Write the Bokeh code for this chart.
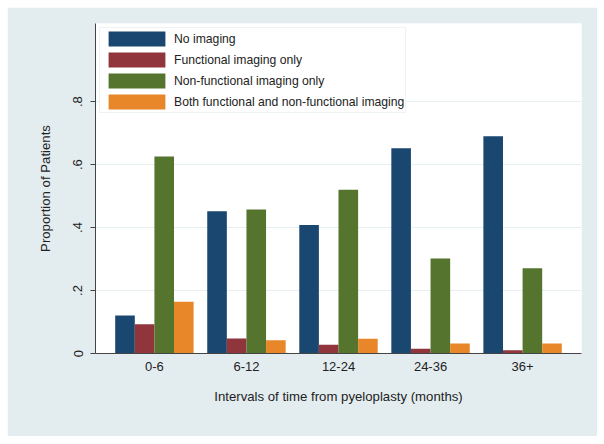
from bokeh.plotting import figure
from bokeh.models import FactorRange, Range1d, FixedTicker, Legend, LegendItem, ColumnDataSource
from bokeh.transform import dodge
from bokeh.embed import file_html
from bokeh.resources import INLINE

intervals = ["0-6", "6-12", "12-24", "24-36", "36+"]
no_imaging = [0.121, 0.452, 0.408, 0.652, 0.690]
functional_only = [0.093, 0.048, 0.028, 0.015, 0.010]
nonfunctional_only = [0.626, 0.457, 0.520, 0.302, 0.271]
both_imaging = [0.164, 0.042, 0.047, 0.032, 0.032]
series_names = ["No imaging", "Functional imaging only", "Non-functional imaging only",
                "Both functional and non-functional imaging"]
y_ticks = [0, 0.2, 0.4, 0.6, 0.8]
y_tick_labels = ["0", ".2", ".4", ".6", ".8"]

colors = ["#1a476f", "#90353b", "#55752f", "#e8862a"]
FONT = "Liberation Sans"

src = ColumnDataSource(dict(x=intervals, s0=no_imaging, s1=functional_only,
                            s2=nonfunctional_only, s3=both_imaging))

p = figure(width=590, height=429, output_backend="svg", toolbar_location=None,
           x_range=FactorRange(factors=intervals, range_padding=0.056, range_padding_units="percent"),
           y_range=Range1d(0, 1.048),
           min_border_left=88, min_border_right=16, min_border_top=16, min_border_bottom=83)
p.margin = (7, 0, 0, 7)
p.border_fill_color = "#e3edf0"
p.background_fill_color = "white"
p.outline_line_color = None

w = 0.213
offsets = [-1.5 * w, -0.5 * w, 0.5 * w, 1.5 * w]
items = []
for i, (name, col) in enumerate(zip(series_names, colors)):
    r = p.vbar(x=dodge("x", offsets[i], range=p.x_range), top=f"s{i}", width=w, source=src,
               fill_color=col, line_color=None)
    items.append(LegendItem(label=name, renderers=[r]))

legend = Legend(items=items, location="top_left", margin=4, padding=1, spacing=2,
                glyph_width=71, glyph_height=19, label_standoff=2,
                label_text_font=FONT, label_text_font_size="12.2px", label_text_color="#222222",
                label_height=19,
                border_line_color="#dde8ec", border_line_width=1,
                background_fill_color="white", background_fill_alpha=1.0)
p.add_layout(legend, "center")

# y axis
p.yaxis.ticker = FixedTicker(ticks=y_ticks)
p.yaxis.major_label_overrides = {t: l for t, l in zip(y_ticks, y_tick_labels)}
p.yaxis.major_label_orientation = "vertical"
p.yaxis.minor_tick_line_color = None
p.yaxis.major_tick_out = 5
p.yaxis.major_tick_in = 0
p.yaxis.major_label_standoff = 8
p.yaxis.axis_label = "Proportion of Patients"
p.yaxis.axis_label_standoff = 18
p.yaxis.axis_line_color = "#444444"
p.yaxis.major_tick_line_color = "#444444"

# x axis
p.xaxis.major_tick_line_color = None
p.xaxis.major_tick_out = 0
p.xaxis.major_label_standoff = 8
p.xaxis.axis_label = "Intervals of time from pyeloplasty (months)"
p.xaxis.axis_label_standoff = 15
p.xaxis.axis_line_color = "#444444"

for ax in (p.xaxis, p.yaxis):
    ax.major_label_text_font = FONT
    ax.major_label_text_font_size = "13px"
    ax.major_label_text_color = "#222222"
    ax.axis_label_text_font = FONT
    ax.axis_label_text_font_size = "13.2px"
    ax.axis_label_text_font_style = "normal"
    ax.axis_label_text_color = "#222222"

p.xgrid.grid_line_color = None
p.ygrid.grid_line_color = "#e6eff2"
p.ygrid.grid_line_width = 1

open("out.html", "w").write(file_html(p, INLINE))
